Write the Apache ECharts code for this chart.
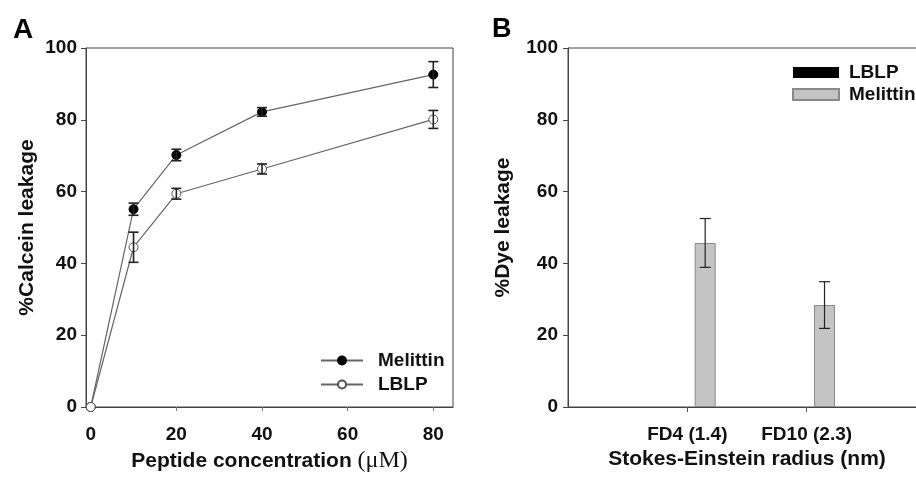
<!DOCTYPE html>
<html lang="en">
  <head>
    <meta charset="UTF-8" />
    <title>Leakage</title>
    <style>
      * {
        margin: 0;
        padding: 0;
      }
      body {
        background: #fff;
      }
      #main {
        width: 916px;
        height: 482px;
      }
    </style>
  </head>

  <body>
    <div id="main"></div>
  </body>

  <script src="https://cdn.jsdelivr.net/npm/echarts@6.0.0/dist/echarts.min.js"></script>
  <script>
    // 面板 A：肽浓度 vs 钙黄绿素泄漏
    const concentrations = [0, 10, 20, 40, 80];
    const melittinLeak = [0, 55.1, 70.2, 82.2, 92.6];
    const melittinErr = [0, 1.7, 1.6, 1.2, 3.6];
    const lblpLeak = [0, 44.5, 59.4, 66.3, 80.1];
    const lblpErr = [0, 4.2, 1.5, 1.4, 2.5];
    const xTicksA = [0, 20, 40, 60, 80];

    // 面板 B：染料泄漏柱状图
    const dyeLabels = ["FD4 (1.4)", "FD10 (2.3)"];
    const lblpDye = [0, 0];
    const melittinDye = [45.7, 28.4];
    const melittinDyeErr = [6.8, 6.5];

    const font = "Liberation Sans, Arial, sans-serif";
    const axisColor = "#444";
    const barWidth = 21;
    const barGap = 0.7;
    // 误差线相对于类目中心的偏移（第二根柱）
    const barShift = (barWidth + barWidth * barGap) / 2;

    const myChart = echarts.init(document.getElementById("main"));

    // B 轴两侧各加一个空类目，让刻度落在正确位置
    const catsB = [""].concat(dyeLabels, [""]);
    const pad = (arr) => ["-"].concat(arr, ["-"]);

    const errA = (vals, errs) =>
      concentrations
        .map((x, i) => [x, vals[i] - errs[i], vals[i] + errs[i]])
        .filter((d, i) => errs[i] > 0);

    const errB = melittinDye.map((v, i) => [
      i + 1,
      v - melittinDyeErr[i],
      v + melittinDyeErr[i],
    ]);

    function errRender(shift, cap, width) {
      return function (params, api) {
        const lo = api.coord([api.value(0), api.value(1)]);
        const hi = api.coord([api.value(0), api.value(2)]);
        const x = lo[0] + shift;
        const style = { stroke: "#222", lineWidth: width };
        return {
          type: "group",
          children: [
            { type: "line", shape: { x1: x, y1: lo[1], x2: x, y2: hi[1] }, style },
            { type: "line", shape: { x1: x - cap, y1: lo[1], x2: x + cap, y2: lo[1] }, style },
            { type: "line", shape: { x1: x - cap, y1: hi[1], x2: x + cap, y2: hi[1] }, style },
          ],
        };
      };
    }

    const tickLabel = {
      fontFamily: font,
      fontWeight: "bold",
      fontSize: 19,
      color: "#111",
    };
    const nameStyle = {
      fontFamily: font,
      fontWeight: "bold",
      fontSize: 21,
      color: "#111",
    };
    const legendText = {
      fontFamily: font,
      fontWeight: "bold",
      fontSize: 19,
      color: "#111",
    };

    const option = {
      backgroundColor: "#fff",
      animation: false,
      title: [
        { text: "A", left: 8, top: 11, textStyle: { fontFamily: font, fontWeight: "bold", fontSize: 28, color: "#000" } },
        { text: "B", left: 487, top: 11, textStyle: { fontFamily: font, fontWeight: "bold", fontSize: 27, color: "#000" } },
      ],
      legend: [
        {
          orient: "vertical",
          left: 315,
          top: 346,
          itemWidth: 42,
          itemHeight: 10,
          itemGap: 5,
          data: ["Melittin", "LBLP"],
          textStyle: Object.assign({ padding: [0, 0, 0, 10] }, legendText),
        },
        {
          orient: "vertical",
          left: 787,
          top: 58,
          icon: "rect",
          itemWidth: 46,
          itemHeight: 11,
          itemGap: 3,
          data: ["LBLP ", "Melittin "],
          formatter: (n) => n.trim(),
          textStyle: Object.assign({ padding: [0, 0, 0, 5] }, legendText),
        },
      ],
      grid: [
        { left: 86, right: 463, top: 48, bottom: 75, outerBoundsMode: "none", show: true, borderColor: axisColor, borderWidth: 1 },
        { left: 568, right: -10, top: 48, bottom: 75, outerBoundsMode: "none", show: true, borderColor: axisColor, borderWidth: 1 },
      ],
      xAxis: [
        {
          gridIndex: 0,
          type: "value",
          min: -1.1,
          max: 84.6,
          name: "{a|Peptide concentration }{b|(μM)}",
          nameLocation: "middle",
          nameGap: 42,
          nameTextStyle: {
            rich: {
              a: nameStyle,
              b: { fontFamily: "Liberation Serif, Times New Roman, serif", fontSize: 24, color: "#111" },
            },
          },
          splitLine: { show: false },
          axisLine: { onZero: false, lineStyle: { color: axisColor, width: 1 } },
          axisTick: { customValues: xTicksA, length: 4, lineStyle: { color: "#777" } },
          axisLabel: Object.assign({ customValues: xTicksA, margin: 18 }, tickLabel),
        },
        {
          gridIndex: 1,
          type: "category",
          data: catsB,
          boundaryGap: false,
          name: "Stokes-Einstein radius (nm)",
          nameLocation: "middle",
          nameGap: 42,
          nameTextStyle: nameStyle,
          axisLine: { onZero: false, lineStyle: { color: axisColor, width: 1 } },
          axisTick: { length: 5, interval: (i) => i > 0, lineStyle: { color: "#555" } },
          axisLabel: Object.assign({ margin: 18, interval: 0 }, tickLabel),
        },
      ],
      yAxis: [
        {
          gridIndex: 0,
          type: "value",
          min: 0,
          max: 100,
          interval: 20,
          name: "%Calcein leakage",
          nameLocation: "middle",
          nameGap: 48,
          nameTextStyle: nameStyle,
          splitLine: { show: false },
          axisLine: { show: true, onZero: false, lineStyle: { color: axisColor, width: 1 } },
          axisTick: { show: true, length: 5, lineStyle: { color: axisColor } },
          axisLabel: Object.assign({ margin: 9 }, tickLabel),
        },
        {
          gridIndex: 1,
          type: "value",
          min: 0,
          max: 100,
          interval: 20,
          name: "%Dye leakage",
          nameLocation: "middle",
          nameGap: 54,
          nameTextStyle: nameStyle,
          splitLine: { show: false },
          axisLine: { show: true, onZero: false, lineStyle: { color: axisColor, width: 1 } },
          axisTick: { show: true, length: 5, lineStyle: { color: axisColor } },
          axisLabel: Object.assign({ margin: 10 }, tickLabel),
        },
      ],
      series: [
        {
          name: "Melittin",
          type: "line",
          xAxisIndex: 0,
          yAxisIndex: 0,
          data: concentrations.map((x, i) => [x, melittinLeak[i]]),
          symbol: "circle",
          symbolSize: 9,
          z: 3,
          lineStyle: { color: "#666", width: 1.2 },
          itemStyle: { color: "#000", borderColor: "#000", borderWidth: 1 },
        },
        {
          name: "LBLP",
          type: "line",
          xAxisIndex: 0,
          yAxisIndex: 0,
          data: concentrations.map((x, i) => [x, lblpLeak[i]]),
          symbol: "circle",
          symbolSize: 9,
          z: 3,
          lineStyle: { color: "#666", width: 1.2 },
          itemStyle: { color: "#fff", borderColor: "#555", borderWidth: 1 },
        },
        {
          type: "custom",
          xAxisIndex: 0,
          yAxisIndex: 0,
          data: errA(melittinLeak, melittinErr).concat(errA(lblpLeak, lblpErr)),
          renderItem: errRender(0, 5, 1.6),
          z: 4,
          silent: true,
        },
        {
          name: "LBLP ",
          type: "bar",
          xAxisIndex: 1,
          yAxisIndex: 1,
          data: pad(lblpDye),
          barWidth: barWidth,
          barGap: barGap * 100 + "%",
          itemStyle: { color: "#000" },
        },
        {
          name: "Melittin ",
          type: "bar",
          xAxisIndex: 1,
          yAxisIndex: 1,
          data: pad(melittinDye),
          barWidth: barWidth,
          barGap: barGap * 100 + "%",
          itemStyle: { color: "#c4c4c4", borderColor: "#8a8a8a", borderWidth: 1 },
        },
        {
          type: "custom",
          xAxisIndex: 1,
          yAxisIndex: 1,
          data: errB,
          renderItem: errRender(barShift, 5.5, 1.2),
          z: 4,
          silent: true,
        },
      ],
    };

    myChart.setOption(option);
  </script>
</html>
